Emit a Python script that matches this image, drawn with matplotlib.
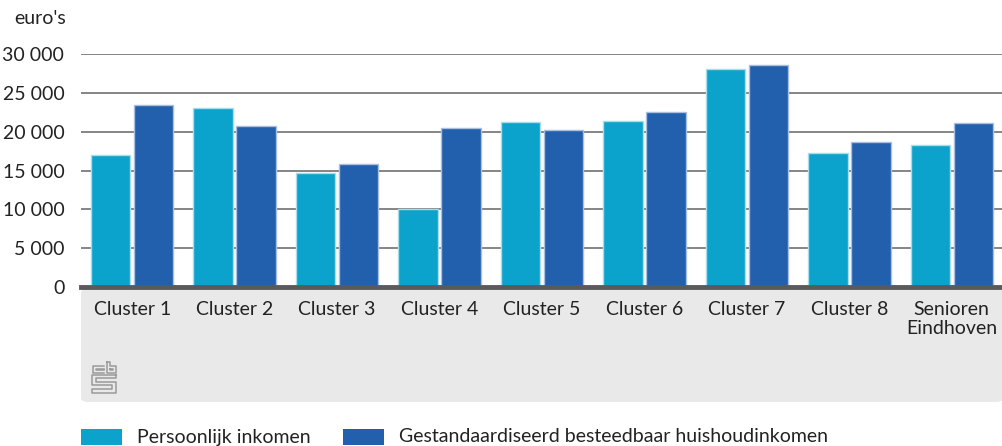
import matplotlib
matplotlib.use("Agg")
import matplotlib.pyplot as plt
import numpy as np
from matplotlib.patches import FancyBboxPatch, Rectangle
from matplotlib.lines import Line2D

categories = ["Cluster 1", "Cluster 2", "Cluster 3", "Cluster 4", "Cluster 5",
              "Cluster 6", "Cluster 7", "Cluster 8", "Senioren\nEindhoven"]
persoonlijk = [17000, 23100, 14700, 10000, 21200, 21400, 28100, 17300, 18300]
besteedbaar = [23400, 20700, 15800, 20500, 20200, 22500, 28600, 18700, 21100]
series_names = ["Persoonlijk inkomen", "Gestandaardiseerd besteedbaar huishoudinkomen"]
yticks = [0, 5000, 10000, 15000, 20000, 25000, 30000]

c_light = "#0ba3cb"
c_dark = "#225fac"
font = "Lato"
fs = 14

W, H = 1003, 446
fig = plt.figure(figsize=(W / 100, H / 100), dpi=100)

# grey panel behind category labels
panel = FancyBboxPatch((81 / W, 1 - 402 / H), (1003 - 81) / W, (402 - 289) / H,
                       boxstyle="round,pad=0,rounding_size=0.008",
                       transform=fig.transFigure, facecolor="#e9e9e9",
                       edgecolor="none", zorder=-5)
fig.patches.append(panel)

ax = fig.add_axes([81 / W, 1 - 287 / H, (1003 - 81) / W, (287 - 54) / H])
ax.set_zorder(2)
ax.set_facecolor("none")
x = np.arange(len(categories))
bw = 0.385
ax.bar(x - 0.21, persoonlijk, bw, color=c_light, edgecolor="#a8dcea", linewidth=1, zorder=3)
ax.bar(x + 0.21, besteedbaar, bw, color=c_dark, edgecolor="#a9bfe0", linewidth=1, zorder=3)

ax.set_xlim(-0.5, len(categories) - 0.5)
ax.set_ylim(0, 30000)
ax.set_yticks(yticks)
ax.set_yticklabels([f"{v:,}".replace(",", " ") for v in yticks], fontsize=fs,
                   family=font, color="#222222")
ax.set_xticks(x)
ax.set_xticklabels(categories, fontsize=fs, family=font, color="#222222",
                   linespacing=1.15, va="top")
ax.tick_params(axis="y", length=0, pad=12)
ax.tick_params(axis="x", length=0, pad=10)
ax.grid(axis="y", color="#858585", linewidth=1.4, zorder=0)
ax.set_axisbelow(True)
for s in ["top", "right", "left"]:
    ax.spines[s].set_visible(False)
ax.spines["bottom"].set_color("#5a5a5a")
ax.spines["bottom"].set_linewidth(3.5)
ax.spines["bottom"].set_zorder(4)

fig.text(14 / W, 1 - 18 / H, "euro's", fontsize=fs, family=font, color="#222222",
         va="center", ha="left")

# cbs logo (rough line drawing, pixel coords)
lc = "#9a9a9a"
def px(xp, yp):
    return [v / W for v in xp], [1 - v / H for v in yp]
logo = [
    # c
    ([104, 93, 93, 104], [366, 366, 373, 373]),
    ([104, 96, 96, 104], [369, 369, 370, 370]),
    # b
    ([107, 107, 116, 116, 110, 110, 107], [362, 373, 373, 366, 366, 362, 362]),
    ([110, 113, 113, 110, 110], [369, 369, 370, 370, 369]),
    # s
    ([116, 92, 92, 112, 112, 92, 92, 116, 116, 96, 96, 116, 116],
     [375, 375, 385, 385, 389, 389, 393, 393, 382, 382, 378, 378, 375]),
]
for xs, ys in logo:
    fx, fy = px(xs, ys)
    fig.lines.append(Line2D(fx, fy, transform=fig.transFigure, color=lc, linewidth=1.1))

# legend
for (lx, name, col) in [(81, series_names[0], c_light), (343, series_names[1], c_dark)]:
    fig.patches.append(Rectangle((lx / W, 1 - 445 / H), 41 / W, 16 / H,
                                 transform=fig.transFigure, facecolor=col, edgecolor="none"))
    fig.text((lx + 56) / W, 1 - 437 / H, name, fontsize=fs, family=font,
             color="#222222", va="center", ha="left")

fig.savefig("out.png", dpi=100)
